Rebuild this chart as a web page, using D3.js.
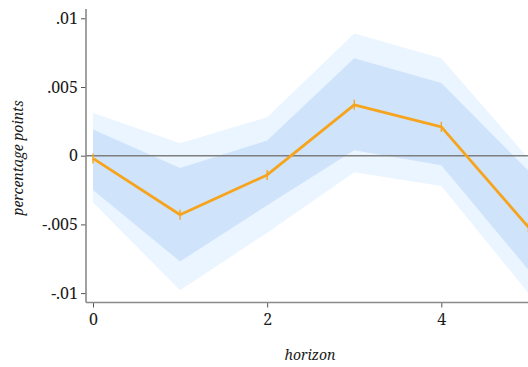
<!DOCTYPE html>
<html>
<head>
<meta charset="utf-8">
<script src="https://cdn.jsdelivr.net/npm/d3@7"></script>
<style>
  html, body { margin: 0; padding: 0; background: #fff; overflow: hidden; }
</style>
</head>
<body>
<div id="container"></div>
<script>
// impulse response by horizon
var horizons = [0, 1, 2, 3, 4, 5];
var estimate = [-0.0002, -0.0043, -0.0014, 0.0037, 0.0021, -0.0052];
var inner_hi = [0.0019, -0.0009, 0.0011, 0.0071, 0.0053, -0.0011];
var inner_lo = [-0.0025, -0.0077, -0.0036, 0.0004, -0.0007, -0.0083];
var outer_hi = [0.0031, 0.0009, 0.0028, 0.0089, 0.0071, -0.0002];
var outer_lo = [-0.0034, -0.0098, -0.0056, -0.0012, -0.0022, -0.0100];
var yTicks = [-0.01, -0.005, 0, 0.005, 0.01];
var yTickLabels = ["-.01", "-.005", "0", ".005", ".01"];
var xTicks = [0, 2, 4];

var W = 528, H = 367;
var AXIS_X = 86, AXIS_Y = 302.5;
var SERIF = "'Noto Serif', 'DejaVu Serif', serif";

var draw = function () {
    var svg = d3.select("#container").append("svg")
        .attr("width", W)
        .attr("height", H);

    var x = d3.scaleLinear().domain([0, 5]).range([93, 528.4]);
    var y = d3.scaleLinear().domain([-0.01, 0.01]).range([293.1, 18.3]);

    var band = function (lo, hi) {
        return d3.area()
            .x(function (d, i) { return x(horizons[i]); })
            .y0(function (d, i) { return y(lo[i]); })
            .y1(function (d, i) { return y(hi[i]); })(horizons);
    };

    svg.append("path").attr("d", band(outer_lo, outer_hi)).attr("fill", "#eaf5ff");
    svg.append("path").attr("d", band(inner_lo, inner_hi)).attr("fill", "#cfe3fb");

    // zero line
    svg.append("line")
        .attr("x1", AXIS_X).attr("x2", W)
        .attr("y1", y(0)).attr("y2", y(0))
        .attr("stroke", "#7f7f7f").attr("stroke-width", 1.4);

    var line = d3.line()
        .x(function (d, i) { return x(horizons[i]); })
        .y(function (d) { return y(d); });

    svg.append("path")
        .attr("d", line(estimate))
        .attr("fill", "none")
        .attr("stroke", "#f7a41d")
        .attr("stroke-width", 2.8)
        .attr("stroke-linejoin", "round");

    svg.selectAll(".pipe").data(estimate).enter().append("line")
        .attr("class", "pipe")
        .attr("x1", function (d, i) { return x(horizons[i]); })
        .attr("x2", function (d, i) { return x(horizons[i]); })
        .attr("y1", function (d) { return y(d) - 5; })
        .attr("y2", function (d) { return y(d) + 5; })
        .attr("stroke", "#f7a41d")
        .attr("stroke-width", 1.4);

    // y axis
    var yAxis = d3.axisLeft(y).tickValues(yTicks).tickSize(5).tickPadding(3)
        .tickFormat(function (d, i) { return yTickLabels[i]; });
    var gy = svg.append("g").attr("transform", "translate(" + AXIS_X + ",0)").call(yAxis)
        .attr("font-family", SERIF);
    gy.select(".domain").remove();
    gy.append("line").attr("x1", 0).attr("x2", 0).attr("y1", 9).attr("y2", AXIS_Y)
        .attr("stroke", "#8a8a8a").attr("stroke-width", 1.6);
    gy.selectAll(".tick line").attr("stroke", "#555");
    gy.selectAll(".tick text").attr("font-size", 16).attr("fill", "#1a1a1a");

    // x axis
    var xAxis = d3.axisBottom(x).tickValues(xTicks).tickSize(5).tickPadding(6)
        .tickFormat(d3.format("d"));
    var gx = svg.append("g").attr("transform", "translate(0," + AXIS_Y + ")").call(xAxis)
        .attr("font-family", SERIF);
    gx.select(".domain").remove();
    gx.append("line").attr("x1", AXIS_X).attr("x2", W).attr("y1", 0).attr("y2", 0)
        .attr("stroke", "#8a8a8a").attr("stroke-width", 1.6);
    gx.selectAll(".tick line").attr("stroke", "#555");
    gx.selectAll(".tick text").attr("font-size", 16).attr("fill", "#1a1a1a");

    svg.append("text")
        .attr("x", 310).attr("y", 360)
        .attr("text-anchor", "middle")
        .attr("font-family", SERIF)
        .attr("fill", "#1a1a1a")
        .attr("font-size", 14).attr("font-style", "italic")
        .text("horizon");

    svg.append("text")
        .attr("transform", "translate(23,158) rotate(-90)")
        .attr("text-anchor", "middle")
        .attr("font-family", SERIF)
        .attr("fill", "#1a1a1a")
        .attr("font-size", 14).attr("font-style", "italic")
        .text("percentage points");
};

window.onload = draw;
</script>
</body>
</html>
